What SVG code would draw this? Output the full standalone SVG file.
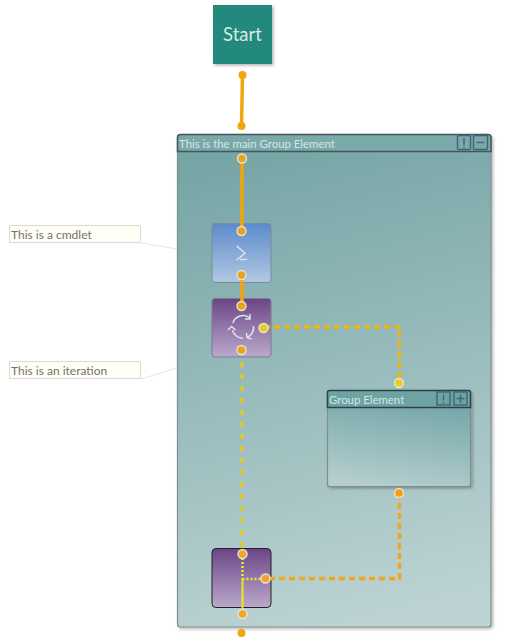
<svg xmlns="http://www.w3.org/2000/svg" width="505" height="641" viewBox="0 0 505 641">
<style>
text{font-family:"Lato","Open Sans","Liberation Sans",sans-serif}
.hdr{font-size:11.4px;fill:#d4e6e6}
.note{font-size:12px;fill:#77716c}
.noteb{fill:#fffff6;stroke:#dcdcdc;stroke-width:1.2}
.lead{stroke:#e6e6e6;stroke-width:1.200;fill:none}
.btn{fill:none;stroke:#3e6478;stroke-width:1.400}
.pin{stroke:#e8e4d4;stroke-width:1.400}
.or{fill:#e8a323}
.ye{fill:#e6cf22}
.ico{fill:none;stroke:#dfe3ee;stroke-width:1.500}
</style>
<defs>
<linearGradient id="gMain" x1="0.42" y1="0" x2="0.58" y2="1"><stop offset="0" stop-color="#76a5a6"/><stop offset="1" stop-color="#bdd3d3"/></linearGradient>
<linearGradient id="gSub" x1="0.6" y1="0" x2="0.4" y2="1"><stop offset="0" stop-color="#6ea3a4"/><stop offset="1" stop-color="#b5cdce"/></linearGradient>
<linearGradient id="gBlue" x1="0" y1="0" x2="0" y2="1"><stop offset="0" stop-color="#5c8bcb"/><stop offset="1" stop-color="#b1c8e2"/></linearGradient>
<linearGradient id="gPurple" x1="0" y1="0" x2="0" y2="1"><stop offset="0" stop-color="#6b4587"/><stop offset="1" stop-color="#bba9cb"/></linearGradient>
<filter id="sh" x="-10%" y="-10%" width="125%" height="125%"><feDropShadow dx="1.500" dy="1.500" stdDeviation="1.500" flood-color="#000" flood-opacity="0.3"/></filter>
</defs>

<g id="note-cmdlet">
<path class="lead" d="M141 243L177 249"/>
<rect class="noteb" x="9.500" y="225.500" width="131" height="17"/>
<text class="note" x="11" y="238.500">This is a cmdlet</text>
</g>
<g id="note-iteration">
<path class="lead" d="M141 379L177 368"/>
<rect class="noteb" x="9.500" y="361.500" width="131" height="17"/>
<text class="note" x="11" y="375">This is an iteration</text>
</g>

<g id="start">
<rect x="213" y="5" width="59" height="59" fill="#22897b" filter="url(#sh)"/>
<text x="242.500" y="41" text-anchor="middle" font-size="18.500" fill="#d6eae5">Start</text>
</g>

<g id="main-group">
<rect x="177.500" y="134.500" width="313.500" height="492.500" rx="3" fill="url(#gMain)" stroke="#7f8f90" stroke-width="1.200" filter="url(#sh)"/>
<path d="M177.500 151.500V137.500a3 3 0 0 1 3-3H488a3 3 0 0 1 3 3V151.500Z" fill="#7aa9aa" stroke="#46565a" stroke-width="1.500"/>
<text class="hdr" x="179" y="147.500">This is the main Group Element</text>
<rect class="btn" x="457.500" y="135.500" width="13" height="14" rx="1"/>
<path d="M464 138v7M464 146.500v1.500" stroke="#3e6478" stroke-width="1.400"/>
<rect class="btn" x="473.500" y="135.500" width="14" height="14" rx="1"/>
<path d="M476.500 142.500h8" stroke="#3e6478" stroke-width="1.400"/>
</g>

<g id="group-element">
<rect x="327.500" y="390.500" width="143" height="96" rx="2" fill="url(#gSub)" stroke="#7f8f90" stroke-width="1.200" filter="url(#sh)"/>
<path d="M327.500 407.500V392.500a2 2 0 0 1 2-2H468.500a2 2 0 0 1 2 2V407.500Z" fill="#6ea3a4" stroke="#2f4146" stroke-width="1.500"/>
<text class="hdr" x="329" y="404">Group Element</text>
<rect class="btn" x="437" y="392" width="13" height="13"/>
<path d="M443.500 394.500v6M443.500 402v1.500" stroke="#3e6478" stroke-width="1.400"/>
<rect class="btn" x="454" y="392" width="13" height="13"/>
<path d="M456.500 398.500h8M460.500 394.500v8" stroke="#3e6478" stroke-width="1.400"/>
</g>

<g id="cmdlet">
<rect x="212" y="223.500" width="59" height="59" rx="3" fill="url(#gBlue)" stroke="#7d8b98" stroke-width="1"/>
<path class="ico" d="M236.700 246l8.300 7.300-8.300 6.700M240 259.500h7"/>
</g>
<g id="iteration">
<rect x="212" y="298.500" width="59" height="58.500" rx="3" fill="url(#gPurple)" stroke="#7d7b8c" stroke-width="1"/>
<path class="ico" d="M232.800 323a10.800 10.800 0 0 1 17.200-5M253.500 326a10.800 10.800 0 0 1-6.500 11.500M243 338.200a10.800 10.800 0 0 1-10.500-8"/>
<path class="ico" d="M250 314v5h-5M251.500 339l-4.500-1.500-0.500-4.500M228 330l3.500-3.500 4 3.500"/>
</g>
<g id="join">
<rect x="212" y="548.500" width="59" height="59" rx="4" fill="url(#gPurple)" stroke="#222" stroke-width="1"/>
</g>

<g id="connectors" fill="none">
<path d="M242.500 75L241.500 126" stroke="#f3a50e" stroke-width="3.500"/>
<path d="M242 158V231" stroke="#f3a50e" stroke-width="3.500"/>
<path d="M242 275V306" stroke="#f3a50e" stroke-width="3.500"/>
<path d="M242 350V553" stroke="#e9c915" stroke-width="3" stroke-dasharray="5 7"/>
<path d="M264 327H399.500V383" stroke="#efb70d" stroke-width="3.500" stroke-dasharray="6 4"/>
<path d="M399.500 493V578.500H265" stroke="#efa620" stroke-width="3.500" stroke-dasharray="6 4"/>
<path d="M242.500 554V579M242.500 579H265" stroke="#f0ec30" stroke-width="2.500" stroke-dasharray="2 2"/>
<path d="M242.500 579V614" stroke="#ece820" stroke-width="2"/>
</g>

<g id="pins">
<circle cx="242.500" cy="75" r="4" fill="#f3a50e"/>
<circle cx="241.500" cy="126" r="4" fill="#f3a50e"/>
<circle class="or pin" cx="242" cy="158.500" r="4.500"/>
<circle class="or pin" cx="241.500" cy="231" r="4.500"/>
<circle class="or pin" cx="241.500" cy="275" r="4.500"/>
<circle class="or pin" cx="241.500" cy="306" r="4.500"/>
<circle class="ye pin" cx="263.500" cy="328" r="4.500"/>
<circle class="or pin" cx="241.500" cy="350" r="4.500"/>
<circle class="ye pin" cx="399" cy="383" r="4.500"/>
<circle class="pin" cx="399" cy="493" r="4.500" fill="#f3a00d"/>
<circle class="pin" cx="242.500" cy="554" r="4.500" fill="#f0a52c"/>
<circle class="pin" cx="265.500" cy="578.500" r="4.500" fill="#f0a52c"/>
<circle class="pin" cx="242.500" cy="614" r="4.500" fill="#f0a52c"/>
<circle cx="241.500" cy="633" r="4" fill="#f3a50e"/>
</g>
</svg>
